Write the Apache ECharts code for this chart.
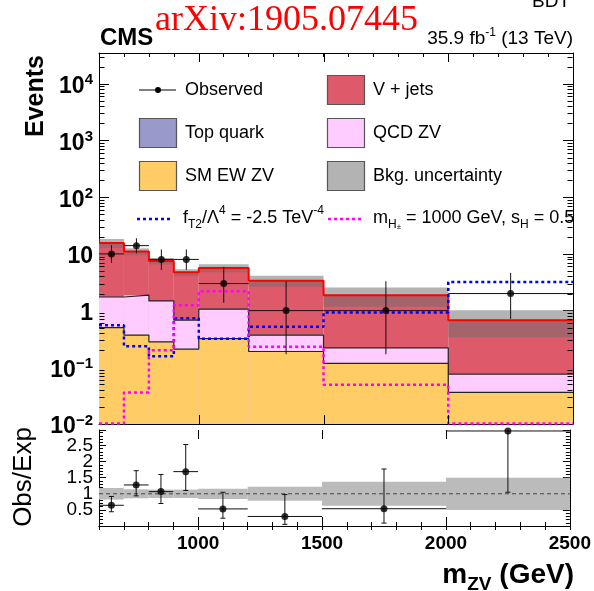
<!DOCTYPE html>
<html>
<head>
<meta charset="utf-8">
<script src="https://cdn.jsdelivr.net/npm/echarts@6/dist/echarts.min.js"></script>
<style>
  html, body { margin: 0; padding: 0; background: #fff; }
  #chart { width: 594px; height: 591px; }
</style>
</head>
<body>
<div id="chart"></div>
<script>
// m_ZV bins (GeV) and per-bin event yields
const binEdges   = [600, 700, 800, 900, 1000, 1200, 1500, 2000, 2500];
const smEwZV     = [0.50, 0.37, 0.28, 0.21, 0.32, 0.19, 0.117, 0.036];
const qcdZV      = [1.24, 1.50, 1.20, 0.47, 0.74, 0.18, 0.103, 0.040];
const topQuark   = [0.02, 0.02, 0.015, 0.01, 0.015, 0.01, 0.005, 0.002];
const vJets      = [13.8, 9.1, 6.0, 4.05, 4.58, 3.0, 1.64, 0.60];
const bkgRelUnc  = [0.18, 0.14, 0.13, 0.13, 0.16, 0.22, 0.37, 0.50];
const observed   = [10, 14, 8, 8, 3, 1, 1, 2];
const obsErrDown = [3.11, 3.72, 2.77, 2.77, 1.63, 0.83, 0.83, 1.29];
const obsErrUp   = [4.26, 4.87, 3.99, 3.99, 2.92, 2.30, 2.30, 2.64];
const signalFT2  = [0.55, 0.236, 0.157, 0.73, 0.32, 0.52, 0.93, 3.2];
const signalHpm  = [0.0102, 0.036, 0.20, 1.24, 2.2, 0.23, 0.049, 0.0102];
const xLabelValues = [1000, 1500, 2000, 2500];
const ratioLabelValues = [0.5, 1, 1.5, 2, 2.5];

const FONT = '"Liberation Sans", Arial, Helvetica, sans-serif';
const SERIF = '"Liberation Serif", "Times New Roman", serif';
const Y_MIN = 0.01, Y_MAX = 35000;
const R_MIN = 0, R_MAX = 2.98;
const X_MIN = binEdges[0], X_MAX = binEdges[binEdges.length - 1];

// cumulative stack boundaries
const cumEw  = smEwZV.slice();
const cumQcd = cumEw.map((v, i) => v + qcdZV[i]);
const cumTop = cumQcd.map((v, i) => v + topQuark[i]);
const total  = cumTop.map((v, i) => v + vJets[i]);

const binLo = i => binEdges[i];
const binHi = i => binEdges[i + 1];
const binMid = i => (binEdges[i] + binEdges[i + 1]) / 2;

function binRects(top, bottom) {
  return top.map((t, i) => [binLo(i), binHi(i), typeof bottom === 'number' ? bottom : bottom[i], t]);
}
function stepPoints(values) {
  const pts = values.map((v, i) => [binLo(i), v]);
  pts.push([X_MAX, values[values.length - 1]]);
  return pts;
}
function rectRenderer(fill, stroke) {
  return function (params, api) {
    const a = api.coord([api.value(0), api.value(3)]);
    const b = api.coord([api.value(1), api.value(2)]);
    return {
      type: 'rect',
      shape: { x: a[0], y: a[1], width: b[0] - a[0], height: b[1] - a[1] },
      style: { fill: fill, stroke: stroke || null, lineWidth: 1 }
    };
  };
}
function errorBarRenderer(caps) {
  return function (params, api) {
    const x0 = api.value(0), x1 = api.value(1), y = api.value(2), yl = api.value(3), yh = api.value(4);
    const xm = (x0 + x1) / 2;
    const pL = api.coord([x0, y]), pR = api.coord([x1, y]);
    const pD = api.coord([xm, yl]), pU = api.coord([xm, yh]);
    const st = { stroke: '#111', lineWidth: 1 };
    const kids = [
      { type: 'line', shape: { x1: pL[0], y1: pL[1], x2: pR[0], y2: pR[1] }, style: st },
      { type: 'line', shape: { x1: pD[0], y1: pD[1], x2: pU[0], y2: pU[1] }, style: st }
    ];
    if (caps) {
      kids.push({ type: 'line', shape: { x1: pD[0] - 2.5, y1: pD[1], x2: pD[0] + 2.5, y2: pD[1] }, style: st });
      kids.push({ type: 'line', shape: { x1: pU[0] - 2.5, y1: pU[1], x2: pU[0] + 2.5, y2: pU[1] }, style: st });
    }
    return { type: 'group', children: kids };
  };
}

const ratio = observed.map((n, i) => n / total[i]);
const ratioErr = observed.map((n, i) => [binLo(i), binHi(i), n / total[i], (n - obsErrDown[i]) / total[i], (n + obsErrUp[i]) / total[i]]);
const obsErr = observed.map((n, i) => [binLo(i), binHi(i), n, n - obsErrDown[i], n + obsErrUp[i]]);

const axisLineStyle = { lineStyle: { color: '#000', width: 1 } };
function xAxisDef(grid, pos, labels) {
  return {
    gridIndex: grid, type: 'value', position: pos, min: X_MIN, max: X_MAX, interval: 100,
    axisLine: axisLineStyle,
    axisTick: { inside: true, length: 4, lineStyle: { color: '#000' } },
    axisLabel: labels ? {
      show: true, interval: 0, margin: 8, color: '#000', fontFamily: FONT, fontSize: 19, fontWeight: 'bold',
      showMaxLabel: true, hideOverlap: false,
      formatter: v => xLabelValues.indexOf(v) >= 0 ? String(v) : ''
    } : { show: false },
    splitLine: { show: false }
  };
}
function logLabel(v) {
  const l = Math.log10(v), e = Math.round(l);
  if (Math.abs(l - e) > 1e-6) return '';
  if (e === 0) return '{b|1}';
  if (e === 1) return '{b|10}';
  return '{b|10}{s|' + (e < 0 ? '\u2212' : '') + Math.abs(e) + '}';
}

const option = {
  animation: false,
  backgroundColor: '#fff',
  grid: [
    { left: 99, top: 53, width: 474, height: 371, show: false },
    { left: 99, top: 430, width: 474, height: 96, show: false }
  ],
  xAxis: [
    xAxisDef(0, 'bottom', false),
    xAxisDef(0, 'top', false),
    xAxisDef(1, 'bottom', true),
    xAxisDef(1, 'top', false)
  ],
  yAxis: [
    {
      gridIndex: 0, type: 'log', logBase: 10, min: Y_MIN, max: Y_MAX, position: 'left',
      axisLine: axisLineStyle,
      axisTick: { inside: true, length: 10, lineStyle: { color: '#000' } },
      axisLabel: {
        margin: 6, color: '#000', formatter: logLabel, showMaxLabel: false, padding: [6, 0, 0, 0],
        rich: {
          b: { fontFamily: FONT, fontSize: 23, fontWeight: 'bold', lineHeight: 28, color: '#000' },
          s: { fontFamily: FONT, fontSize: 15, fontWeight: 'bold', lineHeight: 12, verticalAlign: 'top', color: '#000' }
        }
      },
      splitLine: { show: false }
    },
    {
      gridIndex: 0, type: 'log', logBase: 10, min: Y_MIN, max: Y_MAX, position: 'right',
      axisLine: axisLineStyle,
      axisTick: { inside: true, length: 10, lineStyle: { color: '#000' } },
      axisLabel: { show: false }, splitLine: { show: false }
    },
    {
      gridIndex: 1, type: 'value', min: R_MIN, max: R_MAX, interval: 0.5, position: 'left',
      axisLine: axisLineStyle,
      axisTick: { inside: true, length: 7, lineStyle: { color: '#000' } },
      minorTick: { show: true, splitNumber: 5, length: 4, lineStyle: { color: '#000' } },
      axisLabel: {
        margin: 6, color: '#000', fontFamily: FONT, fontSize: 19, showMaxLabel: false, showMinLabel: false,
        formatter: v => ratioLabelValues.some(r => Math.abs(r - v) < 1e-6) ? String(v) : ''
      },
      splitLine: { show: false }, minorSplitLine: { show: false }
    },
    {
      gridIndex: 1, type: 'value', min: R_MIN, max: R_MAX, interval: 0.5, position: 'right',
      axisLine: axisLineStyle,
      axisTick: { inside: true, length: 7, lineStyle: { color: '#000' } },
      minorTick: { show: true, splitNumber: 5, length: 4, lineStyle: { color: '#000' } },
      axisLabel: { show: false }, splitLine: { show: false }
    }
  ],
  series: [
    { name: 'V + jets', type: 'custom', xAxisIndex: 0, yAxisIndex: 0, z: 1, clip: true,
      renderItem: rectRenderer('#de5a6a'), encode: { x: [0, 1], y: [2, 3] },
      data: binRects(total, Y_MIN) },
    { name: 'Bkg. uncertainty', type: 'custom', xAxisIndex: 0, yAxisIndex: 0, z: 2, clip: true,
      renderItem: rectRenderer('rgba(110,110,110,0.52)'), encode: { x: [0, 1], y: [2, 3] },
      data: binRects(total.map((t, i) => t * (1 + bkgRelUnc[i])), total.map((t, i) => t * (1 - bkgRelUnc[i]))) },
    { name: 'total', type: 'line', xAxisIndex: 0, yAxisIndex: 0, z: 3, step: 'end', showSymbol: false,
      lineStyle: { color: '#ff0000', width: 2 }, data: stepPoints(total) },
    { name: 'Top quark', type: 'custom', xAxisIndex: 0, yAxisIndex: 0, z: 4, clip: true,
      renderItem: rectRenderer('#9999cc'), encode: { x: [0, 1], y: [2, 3] },
      data: binRects(cumTop, Y_MIN) },
    { name: 'QCD ZV', type: 'custom', xAxisIndex: 0, yAxisIndex: 0, z: 5, clip: true,
      renderItem: rectRenderer('#ffccff'), encode: { x: [0, 1], y: [2, 3] },
      data: binRects(cumQcd, Y_MIN) },
    { name: 'QCD ZV edge', type: 'line', xAxisIndex: 0, yAxisIndex: 0, z: 6, step: 'end', showSymbol: false,
      lineStyle: { color: '#222', width: 1.2 }, data: stepPoints(cumQcd) },
    { name: 'SM EW ZV', type: 'custom', xAxisIndex: 0, yAxisIndex: 0, z: 7, clip: true,
      renderItem: rectRenderer('#ffcc66'), encode: { x: [0, 1], y: [2, 3] },
      data: binRects(cumEw, Y_MIN) },
    { name: 'SM EW ZV edge', type: 'line', xAxisIndex: 0, yAxisIndex: 0, z: 8, step: 'end', showSymbol: false,
      lineStyle: { color: '#222', width: 1.2 }, data: stepPoints(cumEw) },
    { name: 'fT2', type: 'line', xAxisIndex: 0, yAxisIndex: 0, z: 9, step: 'end', showSymbol: false,
      lineStyle: { color: '#0000ff', width: 2.5, type: [3, 3] }, data: stepPoints(signalFT2) },
    { name: 'Hpm', type: 'line', xAxisIndex: 0, yAxisIndex: 0, z: 9, step: 'end', showSymbol: false,
      lineStyle: { color: '#ff00ff', width: 2.5, type: [3, 3] }, data: stepPoints(signalHpm) },
    { name: 'Observed bars', type: 'custom', xAxisIndex: 0, yAxisIndex: 0, z: 10, clip: true,
      renderItem: errorBarRenderer(false), encode: { x: [0, 1], y: [2, 3, 4] }, data: obsErr },
    { name: 'Observed', type: 'scatter', xAxisIndex: 0, yAxisIndex: 0, z: 11, symbol: 'circle', symbolSize: 7,
      itemStyle: { color: '#000' }, data: observed.map((n, i) => [binMid(i), n]) },

    { name: 'ratio band', type: 'custom', xAxisIndex: 2, yAxisIndex: 2, z: 1, clip: true,
      renderItem: rectRenderer('#bbbbbb'), encode: { x: [0, 1], y: [2, 3] },
      data: binRects(bkgRelUnc.map(u => 1 + u), bkgRelUnc.map(u => 1 - u)) },
    { name: 'unity', type: 'line', xAxisIndex: 2, yAxisIndex: 2, z: 2, showSymbol: false,
      lineStyle: { color: '#444', width: 1, type: [4, 3] }, data: [[X_MIN, 1], [X_MAX, 1]] },
    { name: 'ratio bars', type: 'custom', xAxisIndex: 2, yAxisIndex: 2, z: 3, clip: true,
      renderItem: errorBarRenderer(true), encode: { x: [0, 1], y: [2, 3, 4] }, data: ratioErr },
    { name: 'ratio points', type: 'scatter', xAxisIndex: 2, yAxisIndex: 2, z: 4, symbol: 'circle', symbolSize: 7,
      itemStyle: { color: '#000' }, data: ratio.map((r, i) => [binMid(i), r]) }
  ]
};

const chart = echarts.init(document.getElementById('chart'), null, { renderer: 'canvas' });
chart.setOption(option);

// ---- decorations: log minor ticks, long x ticks, texts and legend ----
const g = [];
function seg(x1, y1, x2, y2, stroke, w) {
  g.push({ type: 'line', silent: true, z: 50,
    shape: { x1: x1, y1: y1, x2: x2, y2: y2 }, style: { stroke: stroke || '#000', lineWidth: w || 1 } });
}
function txt(x, y, text, rich, opts) {
  const o = Object.assign({ align: 'left', verticalAlign: 'middle', rotation: 0 }, opts || {});
  g.push({ type: 'text', silent: true, z: 60, x: x, y: y, rotation: o.rotation,
    style: { text: text, rich: rich, align: o.align, verticalAlign: o.verticalAlign,
             fill: o.fill || '#000', font: o.font } });
}
const px0 = chart.convertToPixel({ xAxisIndex: 0, yAxisIndex: 0 }, [X_MIN, 1]);
const px1 = chart.convertToPixel({ xAxisIndex: 0, yAxisIndex: 0 }, [X_MAX, 1]);
const xl = Math.round(px0[0]) + 0.5, xr = Math.round(px1[0]) - 0.5;
for (let k = -2; k <= 4; k++) {
  for (let m = 2; m <= 9; m++) {
    const v = m * Math.pow(10, k);
    if (v >= Y_MAX) continue;
    const y = Math.round(chart.convertToPixel({ xAxisIndex: 0, yAxisIndex: 0 }, [X_MIN, v])[1]) + 0.5;
    seg(xl, y, xl + 5, y);
    seg(xr - 5, y, xr, y);
  }
}
[0, 1].forEach(gi => {
  const top = chart.convertToPixel({ xAxisIndex: gi * 2, yAxisIndex: gi * 2 }, [X_MIN, gi ? R_MAX : Y_MAX])[1];
  const bot = chart.convertToPixel({ xAxisIndex: gi * 2, yAxisIndex: gi * 2 }, [X_MIN, gi ? R_MIN : Y_MIN])[1];
  [1000, 1500, 2000].forEach(xv => {
    const x = Math.round(chart.convertToPixel({ xAxisIndex: gi * 2, yAxisIndex: gi * 2 }, [xv, 1])[0]) + 0.5;
    seg(x, top, x, top + 9);
    seg(x, bot - 9, x, bot);
  });
});

// header texts
txt(100, 38, 'CMS', null, { font: 'bold 24px ' + FONT });
txt(155, 21, 'arXiv:1905.07445', null, { font: '36px ' + SERIF, fill: '#ff0000' });
txt(573, 39, '{n|35.9 fb}{s|-1}{n| (13 TeV)}', {
  n: { fontFamily: FONT, fontSize: 19, lineHeight: 24 },
  s: { fontFamily: FONT, fontSize: 12, lineHeight: 12, verticalAlign: 'top' }
}, { align: 'right' });
txt(532, 1.5, 'BDT', null, { font: '19px ' + FONT });

// axis titles
txt(36, 55, 'Events', null, { font: 'bold 25px ' + FONT, align: 'right', rotation: Math.PI / 2 });
txt(24, 477, 'Obs/Exp', null, { font: '26px ' + FONT, align: 'center', rotation: Math.PI / 2 });
txt(574, 575, '{n|m}{sub|ZV}{n| (GeV)}', {
  n: { fontFamily: FONT, fontSize: 28, fontWeight: 'bold', lineHeight: 38 },
  sub: { fontFamily: FONT, fontSize: 19, fontWeight: 'bold', lineHeight: 15, verticalAlign: 'bottom' }
}, { align: 'right' });

// legend
function box(x, y, fill) {
  g.push({ type: 'rect', silent: true, z: 55, shape: { x: x + 0.5, y: y + 0.5, width: 37, height: 29 },
    style: { fill: fill, stroke: '#555', lineWidth: 1.2 } });
}
seg(139, 90, 176, 90, '#000', 1);
g.push({ type: 'circle', silent: true, z: 56, shape: { cx: 158, cy: 90, r: 3 }, style: { fill: '#000' } });
txt(185, 90, 'Observed', null, { font: '18px ' + FONT });
box(327, 75, '#de5a6a');  txt(373, 90, 'V + jets', null, { font: '18px ' + FONT });
box(139, 118, '#9999cc'); txt(185, 133, 'Top quark', null, { font: '18px ' + FONT });
box(327, 118, '#ffccff'); txt(373, 133, 'QCD ZV', null, { font: '18px ' + FONT });
box(139, 161, '#ffcc66'); txt(185, 176, 'SM EW ZV', null, { font: '18px ' + FONT });
box(327, 161, '#b3b3b3'); txt(373, 176, 'Bkg. uncertainty', null, { font: '18px ' + FONT });

g.push({ type: 'line', silent: true, z: 55, shape: { x1: 137, y1: 219, x2: 173, y2: 219 },
  style: { stroke: '#0000ff', lineWidth: 2.5, lineDash: [3, 3] } });
g.push({ type: 'line', silent: true, z: 55, shape: { x1: 328, y1: 219, x2: 363, y2: 219 },
  style: { stroke: '#ff00ff', lineWidth: 2.5, lineDash: [3, 3] } });
const legRich = {
  n: { fontFamily: FONT, fontSize: 18, lineHeight: 26 },
  sup: { fontFamily: FONT, fontSize: 12, lineHeight: 12, verticalAlign: 'top' },
  sub: { fontFamily: FONT, fontSize: 12, lineHeight: 12, verticalAlign: 'bottom' },
  pm: { fontFamily: FONT, fontSize: 8, lineHeight: 20, verticalAlign: 'bottom' }
};
txt(183, 218, '{n|f}{sub|T2}{n|/\u039B}{sup|4}{n| = -2.5 TeV}{sup|-4}', legRich);
txt(373, 218, '{n|m}{sub|H}{pm|\u00B1}{n| = 1000 GeV, s}{sub|H}{n| = 0.5}', legRich);

chart.setOption({ graphic: { elements: g } });
</script>
</body>
</html>
